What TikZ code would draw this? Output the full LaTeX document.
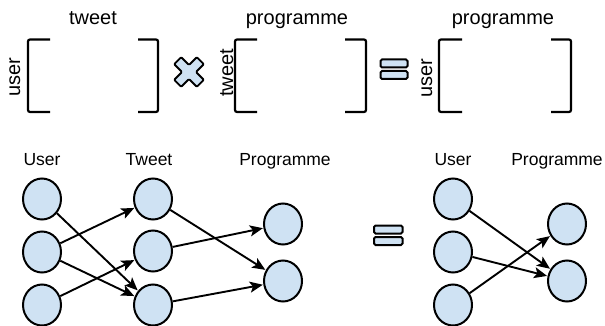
\documentclass[tikz,border=0pt]{standalone}
\usepackage{fontspec}
\setmainfont{Liberation Sans}
\usetikzlibrary{shapes.geometric,arrows.meta}
\definecolor{nodeblue}{HTML}{CFE2F3}
\begin{document}
\begin{tikzpicture}[x=1pt,y=-1pt,
  toplabel/.style={font=\fontsize{20}{24}\selectfont, anchor=base, inner sep=0},
  sidelabel/.style={font=\fontsize{20}{24}\selectfont, anchor=base, rotate=90, inner sep=0},
  botlabel/.style={font=\fontsize{17.5}{21}\selectfont, anchor=base, inner sep=0},
  bracket/.style={line width=2.2pt, rounded corners=2pt},
  bubble/.style={ellipse, draw, line width=2pt, fill=nodeblue, minimum width=38pt, minimum height=41pt, inner sep=0},
  edge/.style={line width=1.9pt, shorten >=0.5pt, -{Stealth[length=13pt,width=11pt,inset=3pt]}},
  bar/.style={draw, line width=2pt, fill=nodeblue, rounded corners=1.5pt}]
\useasboundingbox (0,0) rectangle (605,326);
% top row labels
\node[toplabel] (t1) at (93,25) {tweet};
\node[toplabel] (t2) at (297,25) {programme};
\node[toplabel] (t3) at (503,25) {programme};
\node[sidelabel] (s1) at (20,77) {user};
\node[sidelabel] (s2) at (233,73) {tweet};
\node[sidelabel] (s3) at (432,78) {user};
% brackets
\draw[bracket] (50,39.5) -- (28,39.5) -- (28,112) -- (50,112);
\draw[bracket] (138,39.5) -- (158,39.5) -- (158,112) -- (138,112);
\draw[bracket] (257,39.5) -- (235,39.5) -- (235,112) -- (257,112);
\draw[bracket] (345,39.5) -- (366,39.5) -- (366,112) -- (345,112);
\draw[bracket] (462,39.5) -- (439,39.5) -- (439,112) -- (462,112);
\draw[bracket] (551,39.5) -- (571,39.5) -- (571,112) -- (551,112);
% times sign
\draw[line width=1.9pt, fill=nodeblue, rounded corners=1pt, line join=round, shift={(189,72)}, rotate=45]
  (-5,-16) -- (5,-16) -- (5,-5) -- (16,-5) -- (16,5) -- (5,5)
  -- (5,16) -- (-5,16) -- (-5,5) -- (-16,5) -- (-16,-5) -- (-5,-5) -- cycle;
% equals sign top
\draw[bar] (380.5,59.5) rectangle (407.5,67.5);
\draw[bar] (380.5,71) rectangle (407.5,79);
% equals sign bottom
\draw[bar] (374,225.5) rectangle (402.5,233.5);
\draw[bar] (374,237) rectangle (402.5,245);
% bottom labels
\node[botlabel] (lu) at (42,165) {User};
\node[botlabel] (lt) at (149,165) {Tweet};
\node[botlabel] (lp) at (285,165) {Programme};
\node[botlabel] (ru) at (453,165) {User};
\node[botlabel] (rp) at (557,165) {Programme};
% left graph nodes
\node[bubble] (u1) at (42,199) {};
\node[bubble] (u2) at (42,252) {};
\node[bubble] (u3) at (42,305) {};
\node[bubble] (w1) at (153,199) {};
\node[bubble] (w2) at (153,251) {};
\node[bubble] (w3) at (153,305) {};
\node[bubble] (p1) at (283,224) {};
\node[bubble] (p2) at (283,281) {};
% right graph nodes
\node[bubble] (ru1) at (453,199) {};
\node[bubble] (ru2) at (453,252) {};
\node[bubble] (ru3) at (453,305) {};
\node[bubble] (rp1) at (567,224) {};
\node[bubble] (rp2) at (567,281) {};
% left edges
\draw[edge] (u1) -- (w3);
\draw[edge] (u2) -- (w1);
\draw[edge] (u2) -- (w3);
\draw[edge] (u3) -- (w2);
\draw[edge] (w1) -- (p2);
\draw[edge] (w2) -- (p1);
\draw[edge] (w3) -- (p2);
% right edges
\draw[edge] (ru1) -- (rp2);
\draw[edge] (ru2) -- (rp2);
\draw[edge] (ru3) -- (rp1);
\end{tikzpicture}
\end{document}
